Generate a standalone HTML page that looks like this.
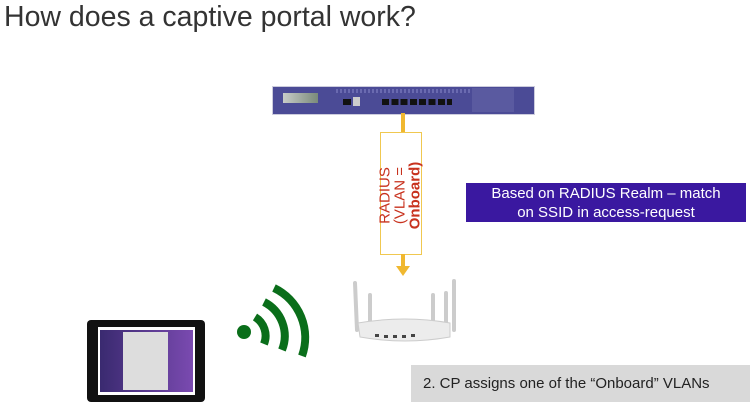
<!DOCTYPE html>
<html><head><style>
body{margin:0;width:750px;height:412px;background:#fff;position:relative;overflow:hidden;font-family:"Liberation Sans",Arial,sans-serif}
.a{position:absolute}
</style></head><body>
<div class="a" style="left:4px;top:1px;font-size:28.5px;color:#333">How does a captive portal work?</div>
<!-- server -->
<div class="a" style="left:272px;top:86px;width:261px;height:27px;background:#4b4b96;border:1px solid #ccd"></div>
<div class="a" style="left:283px;top:93px;width:35px;height:10px;background:linear-gradient(90deg,#c8ccc8,#7a8a7a)"></div>
<div class="a" style="left:336px;top:89px;width:150px;height:4px;background:repeating-linear-gradient(90deg,#6a6ab0 0 2px,#4b4b96 2px 4px)"></div>
<div class="a" style="left:343px;top:99px;width:8px;height:6px;background:#111"></div>
<div class="a" style="left:353px;top:97px;width:7px;height:9px;background:#ccc"></div>
<div class="a" style="left:382px;top:99px;width:70px;height:6px;background:repeating-linear-gradient(90deg,#111 0 7px,#4b4b96 7px 9.3px)"></div>
<div class="a" style="left:472px;top:88px;width:42px;height:24px;background:#5a5aa0"></div>
<!-- arrow -->
<div class="a" style="left:401px;top:113px;width:4px;height:20px;background:#f0b830"></div>
<div class="a" style="left:380px;top:132px;width:40px;height:121px;border:1px solid #f0c850;background:#fff"></div>
<div class="a" style="left:401px;top:254px;width:4px;height:14px;background:#f0b830"></div>
<div class="a" style="left:396px;top:266px;width:0;height:0;border-left:7px solid transparent;border-right:7px solid transparent;border-top:10px solid #f0b830"></div>
<div class="a" style="left:340px;top:173px;width:120px;height:45px;transform:rotate(-90deg);color:#c8321e;font-size:15px;line-height:15px;text-align:center">RADIUS<br>(VLAN =<br><b>Onboard)</b></div>
<!-- purple box -->
<div class="a" style="left:466px;top:183px;width:280px;height:39px;background:#3a18a0;color:#fff;font-size:15px;line-height:19px;text-align:center;padding-top:1px;box-sizing:border-box">Based on RADIUS Realm – match<br>on SSID in access-request</div>
<!-- gray box -->
<div class="a" style="left:411px;top:365px;width:339px;height:37px;background:#d9d9d9;color:#222;font-size:15px;line-height:37px;padding-left:12px;box-sizing:border-box">2. CP assigns one of the “Onboard” VLANs</div>
<!-- tablet -->
<div class="a" style="left:87px;top:320px;width:118px;height:82px;background:#111;border-radius:4px"></div>
<div class="a" style="left:98px;top:327px;width:97px;height:68px;background:#fff"></div>
<div class="a" style="left:100px;top:330px;width:93px;height:62px;background:linear-gradient(90deg,#3a2a70,#7a4ab0)"></div>
<div class="a" style="left:123px;top:332px;width:45px;height:58px;background:#ddd"></div>
<!-- wifi -->
<svg class="a" style="left:230px;top:280px" width="90" height="80">
<circle cx="14" cy="52" r="7" fill="#0a6e1a"/>
<g fill="none" stroke="#0a6e1a" stroke-width="8">
<path d="M25 37 A22 22 0 0 1 34 64"/>
<path d="M34 22 A38 38 0 0 1 52 70"/>
<path d="M44 8 A55 55 0 0 1 72 76"/>
</g></svg>
<!-- router -->
<svg class="a" style="left:350px;top:275px" width="110" height="75">
<g stroke="#ccc" stroke-width="4" stroke-linecap="round">
<line x1="5" y1="8" x2="7" y2="55"/><line x1="20" y1="20" x2="20" y2="50"/><line x1="83" y1="20" x2="83" y2="45"/><line x1="104" y1="6" x2="104" y2="55"/><line x1="96" y1="18" x2="96" y2="50"/>
</g>
<path d="M8 48 Q55 40 100 48 L100 62 Q55 70 10 62 Z" fill="#ececec" stroke="#ccc"/>
<g fill="#444"><rect x="25" y="59" width="4" height="3"/><rect x="34" y="60" width="4" height="3"/><rect x="43" y="60" width="4" height="3"/><rect x="52" y="60" width="4" height="3"/><rect x="61" y="59" width="4" height="3"/></g>
</svg>
</body></html>
